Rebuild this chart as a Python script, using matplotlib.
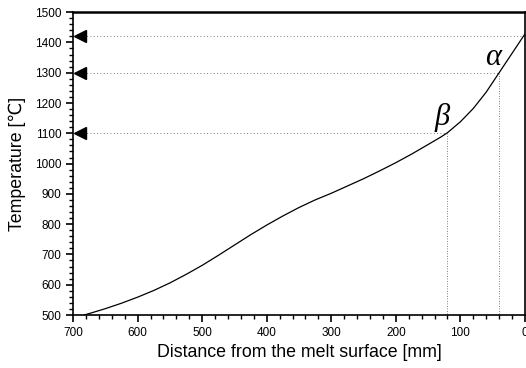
import matplotlib
matplotlib.use("Agg")
import matplotlib.pyplot as plt
import numpy as np
from matplotlib.ticker import MultipleLocator

plt.rcParams['font.family'] = ['Liberation Sans', 'DejaVu Sans']

# curve data (distance mm, temperature C)
dist = [683, 670, 650, 625, 600, 575, 550, 525, 500, 475, 450, 425, 400, 375, 350,
        325, 300, 275, 250, 225, 200, 175, 150, 130, 120, 100, 80, 60, 40, 20, 0]
temp = [500, 508, 521, 539, 559, 581, 606, 634, 664, 697, 731, 765, 797, 827, 855,
        880, 902, 926, 950, 976, 1003, 1032, 1063, 1088, 1102, 1138, 1182, 1236, 1300, 1364, 1428]

# reference levels
levels = [1420, 1300, 1100]
level_ends = [0, 40, 120]
vert_x = [40, 120]
vert_top = [1300, 1100]
labels = ['α', 'β']
label_pos = [(50, 1350), (128, 1152)]

fig = plt.figure(figsize=(5.26, 3.68), dpi=100)
ax = fig.add_axes([0.139, 0.144, 0.859, 0.823])

ax.plot(dist, temp, color='black', lw=0.9)

for lv, end in zip(levels, level_ends):
    ax.plot([690, end], [lv, lv], color='#555555', lw=0.6, linestyle=(0, (1, 3)))
    ax.plot([689], [lv], marker='<', color='black', markersize=8, clip_on=False)

for vx, vt in zip(vert_x, vert_top):
    ax.plot([vx, vx], [vt, 500], color='#555555', lw=0.6, linestyle=(0, (1, 2)))

for lab, (lx, ly) in zip(labels, label_pos):
    ax.text(lx, ly, lab, fontsize=22, style='italic', family=['Liberation Serif', 'DejaVu Serif'],
            ha='center', va='center')

ax.set_xlim(700, 0)
ax.set_ylim(500, 1500)
ax.xaxis.set_major_locator(MultipleLocator(100))
ax.xaxis.set_minor_locator(MultipleLocator(20))
ax.yaxis.set_major_locator(MultipleLocator(100))
ax.yaxis.set_minor_locator(MultipleLocator(20))
ax.tick_params(which='major', length=5, width=1.2, labelsize=8.5, labelcolor='black')
ax.tick_params(which='minor', length=3, width=1.0)
for s in ax.spines.values():
    s.set_linewidth(1.2)
ax.spines['top'].set_linewidth(1.8)

ax.set_xlabel('Distance from the melt surface [mm]', fontsize=12.8, labelpad=4)
ax.set_ylabel('Temperature [℃]', fontsize=12.8, labelpad=6)

fig.savefig('out.png', dpi=100)
